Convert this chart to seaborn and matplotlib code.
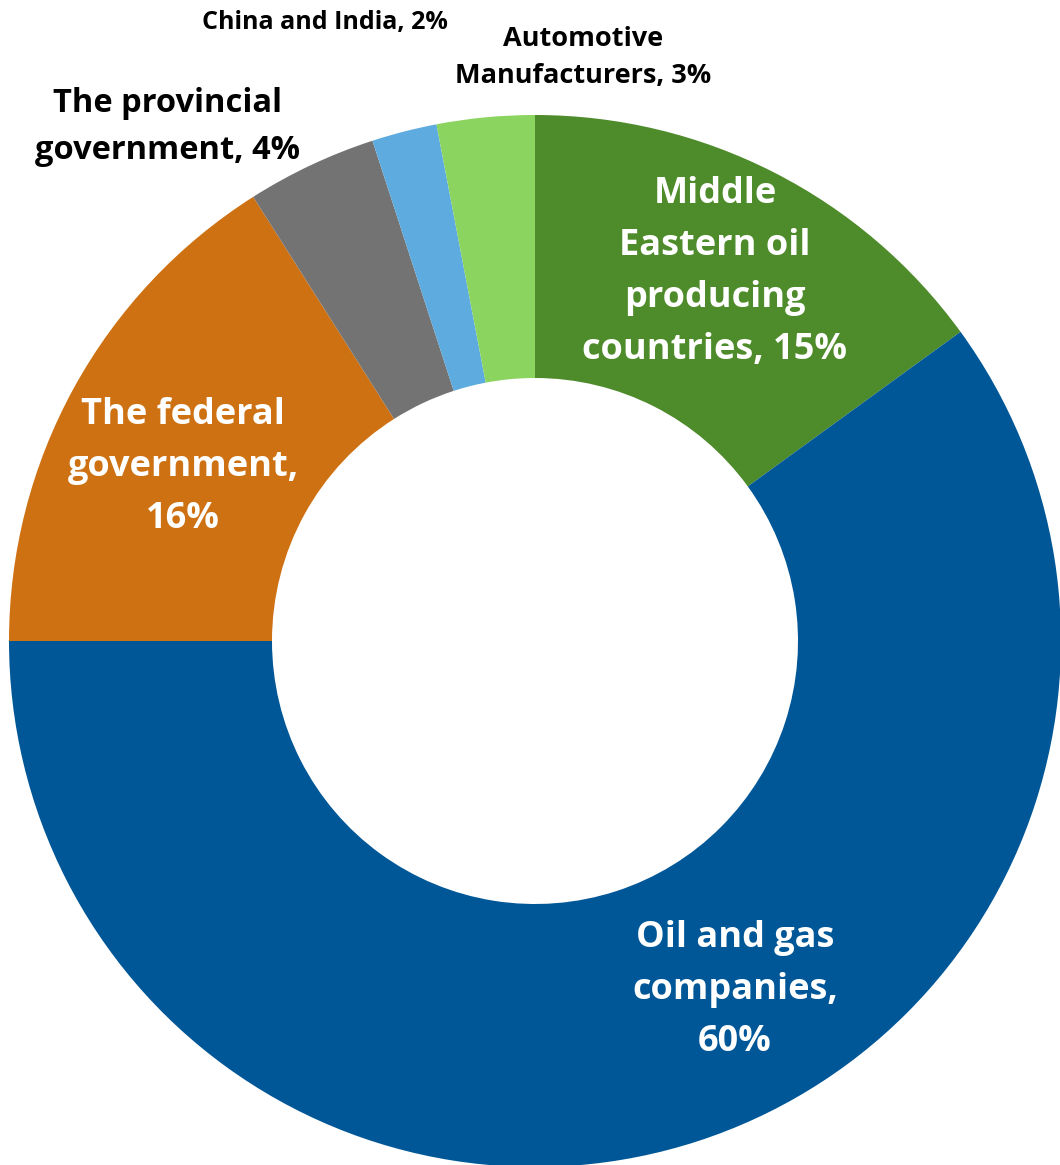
import matplotlib
matplotlib.use("Agg")
import matplotlib.pyplot as plt
import seaborn as sns

# Who benefits: share by stakeholder group (clockwise from 12 o'clock)
categories = [
    "Middle\nEastern oil\nproducing\ncountries,",
    "Oil and gas\ncompanies,\n",
    "The federal\ngovernment,\n",
    "The provincial\ngovernment,",
    "China and India,",
    "Automotive\nManufacturers,",
]
shares = [15, 60, 16, 4, 2, 3]
colors = ["#4E8B2A", "#005797", "#CE7112", "#737373", "#5DABDF", "#8BD45F"]

sns.set_theme(style="white")
plt.rcParams["font.family"] = ["Open Sans", "DejaVu Sans"]

W, H = 1060, 1165
fig = plt.figure(figsize=(W / 100, H / 100), dpi=100)
ax = fig.add_axes([0, 0, 1, 1])

wedges, _ = ax.pie(
    shares,
    colors=colors,
    startangle=90,
    counterclock=False,
    radius=1.0,
    wedgeprops=dict(width=0.5, linewidth=0),
)

# pixel geometry of the ring
cx, cy, R = 535, 641, 526
ax.set_xlim(-cx / R, (W - cx) / R)
ax.set_ylim(-(H - cy) / R, cy / R)
ax.set_aspect("auto")
ax.axis("off")


def px(x, y):
    return (x - cx) / R, (cy - y) / R


def join(c, v):
    # a trailing newline means the value goes on its own line
    if c.endswith("\n"):
        return f"{c}{v}%"
    return f"{c} {v}%"


labels = [join(c, v) for c, v in zip(categories, shares)]
# label placement (pixel centres), colour, size, line spacing
label_style = [
    ((715, 272), "white", 26, 1.6),
    ((735, 990), "white", 26, 1.6),
    ((183, 467), "white", 26, 1.6),
    ((168, 127), "black", 23.5, 1.55),
    ((325, 22), "black", 18, 1.4),
    ((583, 57), "black", 19.5, 1.55),
]
for text, ((x, y), col, fs, ls) in zip(labels, label_style):
    ax.text(*px(x, y), text, ha="center", va="center", color=col,
            fontsize=fs, fontweight="bold", linespacing=ls)

fig.savefig("out.png", dpi=100, facecolor="white")
